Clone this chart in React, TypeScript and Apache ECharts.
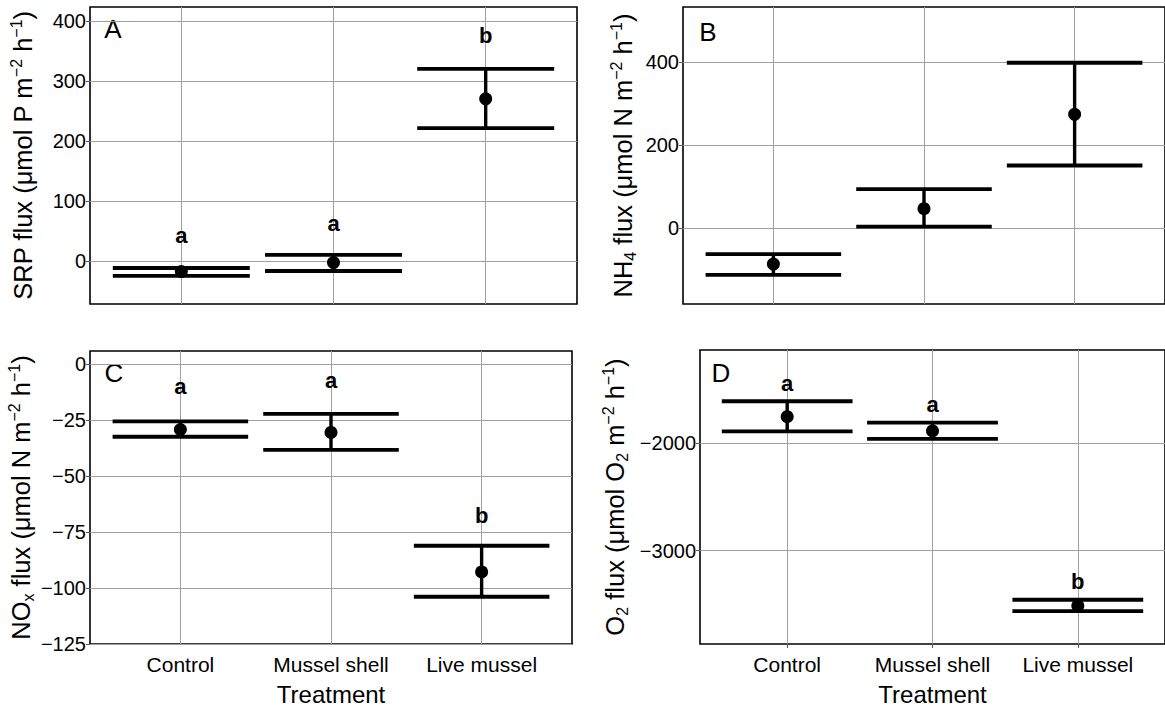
import React, { useEffect, useRef } from "react";
import * as echarts from "echarts";

const categories = ["Control", "Mussel shell", "Live mussel"];
const catPos = [1, 2, 3];

// Panel A: SRP
const srpMean = [-18, -3, 270];
const srpLower = [-25, -17, 221];
const srpUpper = [-12, 10, 320];
const srpLetters = ["a", "a", "b"];
const srpLetterY = [42, 63, 376];
const srpTicks = [0, 100, 200, 300, 400];

// Panel B: NH4
const nh4Mean = [-86, 47, 274];
const nh4Lower = [-112, 4, 151];
const nh4Upper = [-62, 94, 398];
const nh4Ticks = [0, 200, 400];

// Panel C: NOx
const noxMean = [-29.2, -30.5, -92.8];
const noxLower = [-32.4, -38.3, -103.9];
const noxUpper = [-25.5, -22.2, -81.1];
const noxLetters = ["a", "a", "b"];
const noxLetterY = [-10, -7.5, -67.5];
const noxTicks = [-125, -100, -75, -50, -25, 0];

// Panel D: O2
const o2Mean = [-1758, -1890, -3510];
const o2Lower = [-1895, -1963, -3560];
const o2Upper = [-1615, -1813, -3455];
const o2Letters = ["a", "a", "b"];
const o2LetterY = [-1452, -1645, -3287];
const o2Ticks = [-3000, -2000];

const FONT = "Liberation Sans, Arial, Helvetica, sans-serif";

const panels = [
  {
    tag: "A",
    mean: srpMean, lower: srpLower, upper: srpUpper,
    letters: srpLetters, letterY: srpLetterY, ticks: srpTicks,
    min: -72, max: 423,
    name: "{t|SRP flux (μmol P m}{sup|−2}{t| h}{sup|−1}{t|)}",
    grid: { left: 90, top: 7, width: 487, height: 297 },
    nameGap: 52, showX: false, tagPos: [113, 29],
  },
  {
    tag: "B",
    mean: nh4Mean, lower: nh4Lower, upper: nh4Upper,
    letters: [], letterY: [], ticks: nh4Ticks,
    min: -182, max: 532,
    name: "{t|NH}{sub|4}{t| flux (μmol N m}{sup|−2}{t| h}{sup|−1}{t|)}",
    grid: { left: 683, top: 7, width: 487, height: 297 },
    nameGap: 45, showX: false, tagPos: [708, 32],
  },
  {
    tag: "C",
    mean: noxMean, lower: noxLower, upper: noxUpper,
    letters: noxLetters, letterY: noxLetterY, ticks: noxTicks,
    min: -125, max: 5.9,
    name: "{t|NO}{sub|x}{t| flux (μmol N m}{sup|−2}{t| h}{sup|−1}{t|)}",
    grid: { left: 90, top: 351, width: 482, height: 294 },
    nameGap: 54, showX: true, tagPos: [114, 373],
  },
  {
    tag: "D",
    mean: o2Mean, lower: o2Lower, upper: o2Upper,
    letters: o2Letters, letterY: o2LetterY, ticks: o2Ticks,
    min: -3865, max: -1140,
    name: "{t|O}{sub|2}{t| flux (μmol O}{sub|2}{t| m}{sup|−2}{t| h}{sup|−1}{t|)}",
    grid: { left: 700, top: 350, width: 469, height: 297 },
    nameGap: 70, showX: true, tagPos: [721, 373],
  },
];

const fmtNum = (v: number) => (v < 0 ? "−" + Math.abs(v) : String(v));

function buildOption() {
  const grid: any[] = [];
  const xAxis: any[] = [];
  const yAxis: any[] = [];
  const series: any[] = [];
  const graphic: any[] = [];

  panels.forEach((p, i) => {
    grid.push({
      ...p.grid,
      show: true,
      borderColor: "#000",
      borderWidth: 1.6,
      backgroundColor: "transparent",
      containLabel: false,
    });
    xAxis.push({
      gridIndex: i,
      type: "value",
      min: 0.4,
      max: 3.6,
      splitLine: { show: false },
      axisLine: { show: false },
      axisTick: {
        show: true,
        customValues: catPos,
        length: 4,
        lineStyle: { color: "#555", width: 1 },
      },
      axisLabel: {
        show: p.showX,
        customValues: catPos,
        formatter: (v: number) => categories[Math.round(v) - 1] ?? "",
        fontSize: 21,
        color: "#000",
        fontFamily: FONT,
        margin: 10,
      },
      name: p.showX ? "Treatment" : "",
      nameLocation: "middle",
      nameGap: 38,
      nameTextStyle: { fontSize: 24, color: "#000", fontFamily: FONT },
    });
    yAxis.push({
      gridIndex: i,
      type: "value",
      min: p.min,
      max: p.max,
      splitLine: { show: false },
      axisLine: { show: false },
      axisTick: {
        show: true,
        customValues: p.ticks,
        length: 4,
        lineStyle: { color: "#555", width: 1 },
      },
      axisLabel: {
        customValues: p.ticks,
        formatter: fmtNum,
        fontSize: 20,
        color: "#000",
        fontFamily: FONT,
        margin: 4,
      },
      name: p.name,
      nameLocation: "middle",
      nameGap: p.nameGap,
      nameRotate: 90,
      nameTextStyle: {
        color: "#000",
        fontFamily: FONT,
        fontSize: 25.5,
        rich: {
          t: { fontSize: 25.5, fontFamily: FONT, color: "#000", lineHeight: 30 },
          sup: { fontSize: 16, fontFamily: FONT, color: "#000", verticalAlign: "top", lineHeight: 16 },
          sub: { fontSize: 16, fontFamily: FONT, color: "#000", verticalAlign: "bottom", lineHeight: 16 },
        },
      },
    });

    // grid lines + letters
    series.push({
      type: "scatter",
      xAxisIndex: i,
      yAxisIndex: i,
      z: 1,
      symbolSize: 1,
      itemStyle: { color: "rgba(0,0,0,0)" },
      silent: true,
      data: p.letters.map((l, k) => [catPos[k], p.letterY[k], l]),
      label: {
        show: true,
        position: "inside",
        formatter: (q: any) => q.value[2],
        fontSize: 22,
        fontWeight: "bold",
        color: "#000",
        opacity: 1,
        textBorderWidth: 0,
        textBorderColor: "transparent",
        fontFamily: FONT,
      },
      markLine: {
        silent: true,
        z: 1,
        symbol: "none",
        label: { show: false },
        lineStyle: { color: "#a0a0a0", width: 1, type: "solid" },
        data: [
          ...catPos.map((v) => ({ xAxis: v })),
          ...p.ticks.map((v) => ({ yAxis: v })),
        ],
      },
    });

    // error bars
    series.push({
      type: "custom",
      xAxisIndex: i,
      yAxisIndex: i,
      z: 3,
      data: catPos.map((x, k) => [x, p.lower[k], p.upper[k]]),
      encode: { x: 0, y: [1, 2] },
      renderItem: (params: any, api: any) => {
        const x = api.value(0);
        const lo = api.value(1);
        const hi = api.value(2);
        const a = api.coord([x - 0.45, hi]);
        const b = api.coord([x + 0.45, hi]);
        const c = api.coord([x - 0.45, lo]);
        const d = api.coord([x + 0.45, lo]);
        const m1 = api.coord([x, hi]);
        const m2 = api.coord([x, lo]);
        const st = { stroke: "#000", lineWidth: 3.8 };
        return {
          type: "group",
          children: [
            { type: "line", shape: { x1: m1[0], y1: m1[1], x2: m2[0], y2: m2[1] }, style: { stroke: "#000", lineWidth: 3.4 } },
            { type: "line", shape: { x1: a[0], y1: a[1], x2: b[0], y2: b[1] }, style: st },
            { type: "line", shape: { x1: c[0], y1: c[1], x2: d[0], y2: d[1] }, style: st },
          ],
        };
      },
    });

    // means
    series.push({
      type: "scatter",
      xAxisIndex: i,
      yAxisIndex: i,
      z: 4,
      symbol: "circle",
      symbolSize: 13,
      itemStyle: { color: "#000", opacity: 1 },
      data: catPos.map((x, k) => [x, p.mean[k]]),
    });

    graphic.push({
      type: "text",
      x: p.tagPos[0],
      y: p.tagPos[1],
      style: {
        text: p.tag,
        fill: "#000",
        fontSize: 26,
        fontFamily: FONT,
        align: "center",
        verticalAlign: "middle",
      },
    });
  });

  return {
    animation: false,
    backgroundColor: "#fff",
    grid,
    xAxis,
    yAxis,
    series,
    graphic,
  };
}

export default function App() {
  const ref = useRef<HTMLDivElement>(null);
  useEffect(() => {
    if (!ref.current) return;
    const chart = echarts.init(ref.current, undefined, { renderer: "svg" });
    chart.setOption(buildOption() as any);
    return () => chart.dispose();
  }, []);
  return (
    <div
      ref={ref}
      style={{ position: "absolute", left: 0, top: 0, width: 1165, height: 707, background: "#fff" }}
    />
  );
}
